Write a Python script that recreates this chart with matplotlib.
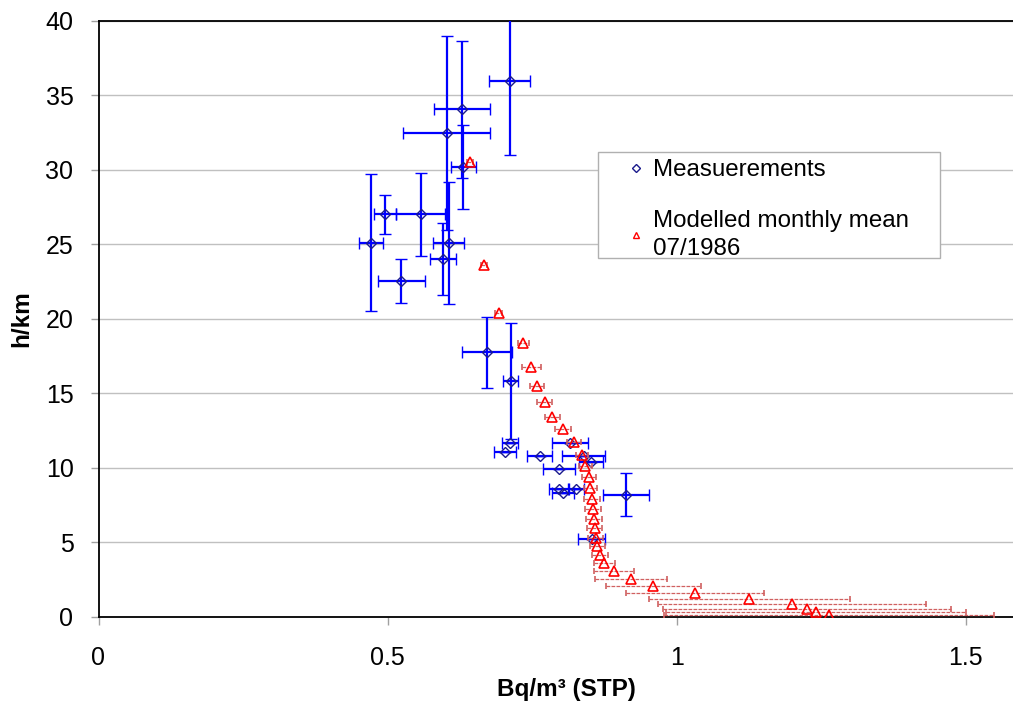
import matplotlib
matplotlib.use("Agg")
import matplotlib.pyplot as plt
from matplotlib.lines import Line2D
from matplotlib.patches import Rectangle

plt.rcParams['font.family'] = ['Liberation Sans', 'DejaVu Sans']

# Measurements (blue diamonds)
meas_x = [0.711, 0.629, 0.602, 0.631, 0.471, 0.495, 0.557, 0.606, 0.596, 0.524,
          0.672, 0.713, 0.712, 0.704, 0.763, 0.815, 0.839, 0.852, 0.797, 0.797,
          0.803, 0.826, 0.913, 0.853]
meas_h = [35.95, 34.03, 32.45, 30.16, 25.08, 27.0, 27.0, 25.08, 24.0, 22.53,
          17.73, 15.79, 11.63, 11.03, 10.75, 11.63, 10.75, 10.41, 9.93, 8.57,
          8.28, 8.57, 8.19, 5.22]
meas_xerr = [0.036, 0.049, 0.076, 0.022, 0.021, 0.019, 0.043, 0.027, 0.022, 0.040,
             0.043, 0.013, 0.014, 0.019, 0.021, 0.031, 0.038, 0.021, 0.028, 0.017,
             0.019, 0.013, 0.040, 0.023]
meas_herr = [4.95, 4.6, 6.5, 2.8, 4.6, 1.3, 2.8, 4.1, 2.4, 1.45,
             2.4, 3.9, 0, 0, 0, 0, 0, 0, 0, 0,
             0, 0, 1.45, 0]

# Modelled monthly mean 07/1986 (red triangles)
mod_x = [0.643, 0.667, 0.692, 0.735, 0.749, 0.759, 0.772, 0.785, 0.803, 0.823,
         0.836, 0.842, 0.848, 0.851, 0.854, 0.856, 0.857, 0.858, 0.860, 0.863,
         0.868, 0.875, 0.892, 0.921, 0.960, 1.032, 1.126, 1.200, 1.225, 1.241, 1.264]
mod_h = [30.54, 23.62, 20.40, 18.33, 16.77, 15.50, 14.42, 13.42, 12.57, 11.70,
         10.85, 10.13, 9.40, 8.62, 7.90, 7.21, 6.56, 5.92, 5.31, 4.71,
         4.13, 3.57, 3.04, 2.52, 2.03, 1.58, 1.21, 0.83, 0.52, 0.29, 0.09]
mod_xerr = [0.005, 0.005, 0.006, 0.010, 0.017, 0.012, 0.013, 0.013, 0.014, 0.012,
            0.010, 0.011, 0.012, 0.012, 0.014, 0.014, 0.014, 0.013, 0.013, 0.013,
            0.014, 0.018, 0.035, 0.062, 0.082, 0.120, 0.174, 0.232, 0.249, 0.259, 0.285]

x_ticks = [0, 0.5, 1, 1.5]
x_ticklabels = ['0', '0.5', '1', '1.5']
y_ticks = [0, 5, 10, 15, 20, 25, 30, 35, 40]

legend_labels = ['Measuerements', 'Modelled monthly mean\n07/1986']

W, H = 1013, 702
fig = plt.figure(figsize=(W / 100, H / 100), dpi=100)
ax = fig.add_axes([98.5 / W, (H - 616.7) / H, (W - 98.5) / W, (616.7 - 20.5) / H])

fs_tick = 18
fs_lab = 17.5
fs_leg = 17.4

# blue measurements
eb1 = ax.errorbar(meas_x, meas_h, xerr=meas_xerr, yerr=meas_herr, fmt='D',
                  ms=5.2, mfc='none', mec='#1a1a8c', mew=1.0,
                  ecolor='#0000ff', elinewidth=1.6, capsize=4.2, capthick=1.9,
                  zorder=3)

# red modelled
eb2 = ax.errorbar(mod_x, mod_h, xerr=mod_xerr, fmt='^',
                  ms=7, mfc='none', mec='#ff0000', mew=1.2,
                  ecolor='#d06060', elinewidth=0.9, capsize=2.5, capthick=0.9,
                  zorder=4)
for lc in eb2[2]:
    lc.set_linestyle((0, (3, 1)))

ax.set_xlim(0, (W - 98.5) / 578.1)
ax.set_ylim(0, 40)
ax.set_xticks(x_ticks)
ax.set_xticklabels(x_ticklabels)
ax.set_yticks(y_ticks)

ax.grid(axis='y', color='#c0c0c0', lw=1.0, zorder=0)
ax.set_axisbelow(True)

ax.tick_params(axis='x', direction='out', length=6, width=1, color='#a0a0a0',
               labelsize=fs_tick, pad=15)
ax.tick_params(axis='y', direction='out', length=6, width=1, color='#a0a0a0',
               labelsize=fs_tick, pad=12)

for s in ['left', 'bottom', 'top']:
    ax.spines[s].set_color('black')
    ax.spines[s].set_linewidth(1.3)
ax.spines['right'].set_visible(False)

ax.set_xlabel('Bq/m³ (STP)', fontsize=fs_lab, fontweight='bold')
ax.set_ylabel('h/km', fontsize=fs_lab, fontweight='bold')
ax.xaxis.set_label_coords((566.5 - 98.5) / (W - 98.5), -0.103)
ax.yaxis.set_label_coords((33.5 - 98.5) / (W - 98.5), 0.5)

# legend box
box = Rectangle((598 / W, 1 - 258 / H), (940 - 598) / W, (258 - 152) / H,
                transform=fig.transFigure, facecolor='white', edgecolor='#b0b0b0',
                lw=1.0, zorder=5)
fig.patches.append(box)

handles = [Line2D([], [], marker='D', ls='none', ms=4, mfc='none', mec='#1a1a8c', mew=1.0),
           Line2D([], [], marker='^', ls='none', ms=5, mfc='none', mec='#ff0000', mew=1.0)]
leg = fig.legend(handles, legend_labels, loc='upper left',
                 bbox_to_anchor=(612 / W, 1 - 145 / H), frameon=False,
                 fontsize=fs_leg, handlelength=0.8, handletextpad=0.3,
                 labelspacing=1.2, borderpad=0.1, numpoints=1)
for t in leg.get_texts():
    t.set_linespacing(1.3)
leg.set_zorder(6)

fig.savefig('out.png', dpi=100)
